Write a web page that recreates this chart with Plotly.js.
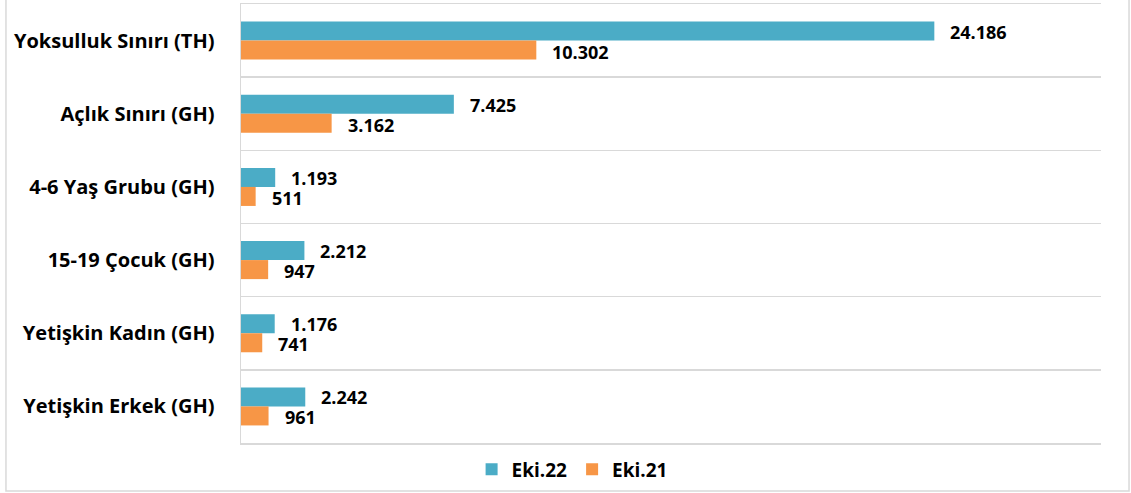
<!DOCTYPE html>
<html>
<head>
<meta charset="utf-8">
<script src="https://cdn.plot.ly/plotly-3.0.1.min.js"></script>
<style>
html,body{margin:0;padding:0;background:#fff;}
#chart{width:1131px;height:493px;}
</style>
</head>
<body>
<div id="chart"></div>
<script>
const categories = ["Yoksulluk Sınırı (TH)", "Açlık Sınırı (GH)", "4-6 Yaş Grubu (GH)", "15-19 Çocuk (GH)", "Yetişkin Kadın (GH)", "Yetişkin Erkek (GH)"];
const seriesNames = ["Eki.22", "Eki.21"];
const eki22 = [24186, 7425, 1193, 2212, 1176, 2242];
const eki21 = [10302, 3162, 511, 947, 741, 961];
const colors = ["#4bacc6", "#f79646"];

function fmt(v){ return String(v).replace(/\B(?=(\d{3})+(?!\d))/g, "."); }

const FONT = "'Open Sans', sans-serif";

const traces = [eki22, eki21].map((vals, i) => ({
  type: "bar",
  orientation: "h",
  name: seriesNames[i],
  x: vals,
  y: categories,
  marker: {color: colors[i]},
  hoverinfo: "x+name"
}));

const annotations = [];
[eki22, eki21].forEach((vals, i) => {
  vals.forEach((v, j) => {
    annotations.push({
      x: v, y: categories[j], xref: "x", yref: "y",
      text: "<b>" + fmt(v) + "</b>", showarrow: false, xanchor: "left", yanchor: "middle",
      xshift: 14, yshift: i === 0 ? 9 : -11,
      font: {family: FONT, size: 18, color: "#000"}
    });
  });
});

const layout = {
  width: 1131, height: 493,
  margin: {l: 241, r: 30, t: 4, b: 50},
  paper_bgcolor: "#fff", plot_bgcolor: "#fff",
  barmode: "group", bargap: 0.48, bargroupgap: 0,
  showlegend: true,
  legend: {orientation: "h", x: 0.385, xanchor: "center", yref: "container", y: 0.048, yanchor: "middle",
    font: {family: FONT, size: 19, color: "#000", weight: 700}},
  xaxis: {range: [0, 30000], showgrid: false, zeroline: false, showticklabels: false,
    showline: true, mirror: true, linecolor: "#d9d9d9", linewidth: 1.5, ticks: "", fixedrange: true},
  yaxis: {type: "category", autorange: "reversed", tickson: "boundaries", showgrid: true,
    gridcolor: "#d9d9d9", gridwidth: 1.5, showline: true, linecolor: "#d9d9d9", linewidth: 1.5,
    ticks: "", ticklabelstandoff: 21,
    tickfont: {family: FONT, size: 20, color: "#000", weight: 700}, fixedrange: true},
  annotations: annotations,
  shapes: [{type: "rect", xref: "paper", yref: "paper", x0: -0.2733, x1: 1.0326, y0: -0.1093, y1: 1.02,
    line: {color: "#d9d9d9", width: 1.5}, fillcolor: "rgba(0,0,0,0)", layer: "below"}]
};

Plotly.newPlot("chart", traces, layout, {displayModeBar: false, staticPlot: true});
</script>
</body>
</html>
